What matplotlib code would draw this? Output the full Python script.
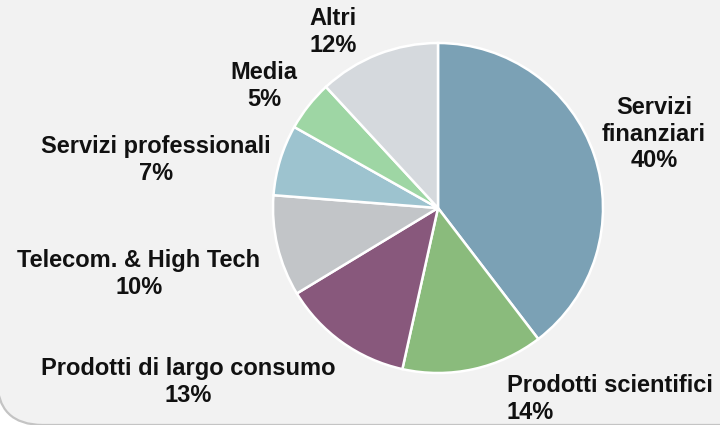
import matplotlib.pyplot as plt
from matplotlib.patches import FancyBboxPatch


SECTORS = [
    "Servizi\nfinanziari",
    "Prodotti scientifici",
    "Prodotti di largo consumo",
    "Telecom. & High Tech",
    "Servizi professionali",
    "Media",
    "Altri",
]
SHARES = [40, 14, 13, 10, 7, 5, 12]

COLORS = ["#7BA1B5", "#8ABB7C", "#88587C", "#C2C5C8", "#9DC3CF", "#9ED6A4", "#D5D9DD"]

# label anchor in pixel coords (x, y from top) and horizontal alignment
LABEL_POS = [
    (654, 134, "center"),
    (507, 399, "left"),
    (188, 382, "center"),
    (139, 274, "center"),
    (156, 160, "center"),
    (264, 86, "center"),
    (333, 32, "center"),
]

W, H = 720, 425
BG = "#F2F2F2"


def main() -> None:
    fig = plt.figure(figsize=(W / 100, H / 100), dpi=100)
    fig.patch.set_facecolor("white")
    ax = fig.add_axes([0, 0, 1, 1])

    # rounded panel running off the top/right edges
    panel = FancyBboxPatch(
        (-3, 0), W + 60, H + 60,
        boxstyle="round,pad=0,rounding_size=46",
        facecolor=BG, edgecolor="#C4C4C4", lw=1.6, zorder=0,
    )
    ax.add_patch(panel)

    ax.pie(
        SHARES,
        colors=COLORS,
        startangle=90,
        counterclock=False,
        center=(438, H - 208),
        radius=165,
        wedgeprops=dict(edgecolor="white", linewidth=1.8),
        frame=True,
    )

    for name, share, (px, py, ha) in zip(SECTORS, SHARES, LABEL_POS):
        ax.text(
            px, H - py, f"{name}\n{share}%",
            ha=ha, va="center", multialignment=ha,
            fontsize=17, fontweight="bold", color="#111111",
            family="Liberation Sans", linespacing=1.2,
        )

    ax.set_xlim(0, W)
    ax.set_ylim(0, H)
    ax.set_aspect("equal")
    ax.axis("off")

    fig.savefig("out.png", dpi=100, facecolor=fig.get_facecolor())
    plt.close(fig)


if __name__ == "__main__":
    main()
